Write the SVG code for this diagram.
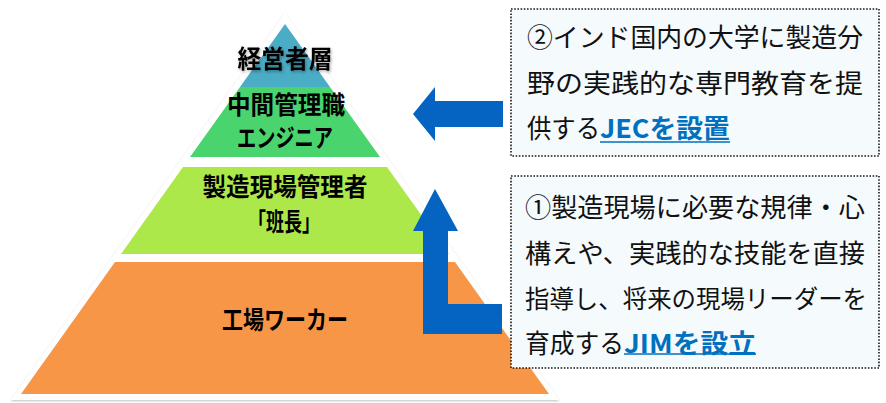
<svg xmlns="http://www.w3.org/2000/svg" width="886" height="403" viewBox="0 0 886 403">
<defs>
<style>
.lbl{font-family:"Noto Sans CJK JP","Noto Sans",sans-serif;font-weight:700;font-size:25px;fill:#000;text-anchor:middle;dominant-baseline:central}
.body{font-family:"Noto Sans CJK JP","Noto Sans",sans-serif;font-weight:400;font-size:26px;fill:#111;dominant-baseline:central}
.hl{font-family:"Noto Sans CJK JP","Noto Sans",sans-serif;font-weight:700;font-size:26px;fill:#0070C0;dominant-baseline:central}
.box{fill:#F5FAFC;stroke:#1a1a1a;stroke-width:1.6;stroke-dasharray:1.6 1.6}
.arrow{fill:#0563C1}
.ul{stroke:#0070C0;stroke-width:1.6}
</style>
<filter id="sh" x="-20%" y="-40%" width="140%" height="180%">
<feDropShadow dx="1" dy="1.5" stdDeviation="1.5" flood-color="#000" flood-opacity="0.35"/>
</filter>
<filter id="tri" x="-5%" y="-5%" width="110%" height="110%">
<feDropShadow dx="0" dy="1" stdDeviation="1" flood-color="#000" flood-opacity="0.25"/>
</filter>
</defs>
<rect width="886" height="403" fill="#fff"/>

<polygon points="285,13 11,400 559,400" fill="#fff" filter="url(#tri)"/>

<g id="tier-executive">
<polygon points="285,24 240,87 330,87" fill="#4BACC6"/>
<text class="lbl" x="285" y="57" textLength="95" lengthAdjust="spacingAndGlyphs" filter="url(#sh)">経営者層</text>
</g>

<g id="tier-middle">
<polygon points="240,87 330,87 380,157 190,157" fill="#4AD46E"/>
<text class="lbl" x="286" y="103" textLength="118" lengthAdjust="spacingAndGlyphs">中間管理職</text>
<text class="lbl" x="285" y="136" textLength="96" lengthAdjust="spacingAndGlyphs">エンジニア</text>
</g>

<g id="tier-supervisor">
<polygon points="183,167 387,167 449,254 121,254" fill="#ADE84A"/>
<text class="lbl" x="285" y="185" textLength="165" lengthAdjust="spacingAndGlyphs">製造現場管理者</text>
<text class="lbl" x="284" y="220" textLength="72" lengthAdjust="spacingAndGlyphs">「班長」</text>
</g>

<g id="tier-worker">
<polygon points="115,262 455,262 549,394 21,394" fill="#F79646"/>
<text class="lbl" x="285" y="318" textLength="126" lengthAdjust="spacingAndGlyphs">工場ワーカー</text>
</g>

<g id="box-jec">
<rect class="box" x="511" y="9" width="368" height="147"/>
<text class="body" x="527" y="35" textLength="336" lengthAdjust="spacingAndGlyphs">②インド国内の大学に製造分</text>
<text class="body" x="527" y="81" textLength="336" lengthAdjust="spacingAndGlyphs">野の実践的な専門教育を提</text>
<text class="body" x="527" y="126" textLength="73" lengthAdjust="spacingAndGlyphs">供する</text>
<text class="hl" x="600" y="126" textLength="130" lengthAdjust="spacingAndGlyphs">JECを設置</text>
<line class="ul" x1="600" y1="142" x2="730" y2="142"/>
</g>

<g id="box-jim">
<rect class="box" x="511" y="176" width="368" height="192"/>
<text class="body" x="525" y="205" textLength="340" lengthAdjust="spacingAndGlyphs">①製造現場に必要な規律・心</text>
<text class="body" x="525" y="251" textLength="340" lengthAdjust="spacingAndGlyphs">構えや、実践的な技能を直接</text>
<text class="body" x="525" y="297" textLength="342" lengthAdjust="spacingAndGlyphs" style="font-size:25px">指導し、将来の現場リーダーを</text>
<text class="body" x="525" y="341" textLength="99" lengthAdjust="spacingAndGlyphs">育成する</text>
<text class="hl" x="624" y="341" textLength="132" lengthAdjust="spacingAndGlyphs">JIMを設立</text>
<line class="ul" x1="624" y1="354" x2="756" y2="354"/>
</g>

<g id="connectors">
<polygon class="arrow" points="413,114 435,87 435,101 503,101 503,127 435,127 435,141"/>
<polygon class="arrow" points="435,189 458,231 448,231 448,304 502,304 502,334 423,334 423,231 413,231"/>
</g>
</svg>
